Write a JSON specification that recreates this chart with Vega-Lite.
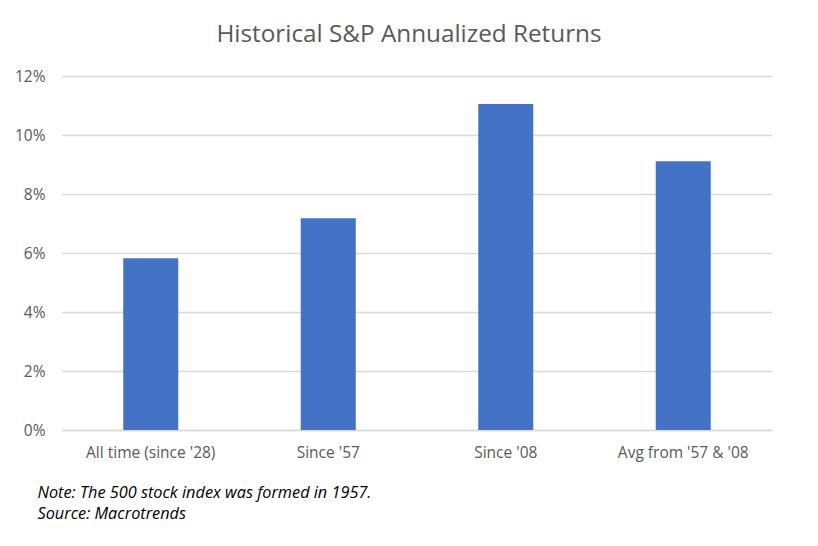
{
  "$schema": "https://vega.github.io/schema/vega-lite/v6.json",
  "width": 710,
  "height": 354,
  "autosize": {"type": "none"},
  "padding": {"left": 62, "top": 76, "right": 46, "bottom": 116},
  "background": "white",
  "title": {
    "text": "Historical S&P Annualized Returns",
    "font": "Open Sans",
    "fontSize": 24.3,
    "fontWeight": 400,
    "color": "#595959",
    "anchor": "middle",
    "frame": "group",
    "offset": 22,
    "dx": -8
  },
  "data": {
    "values": [
      {"period": "All time (since '28)", "ret": 0.0582},
      {"period": "Since '57", "ret": 0.0718},
      {"period": "Since '08", "ret": 0.1105},
      {"period": "Avg from '57 & '08", "ret": 0.0911}
    ]
  },
  "mark": {"type": "bar", "color": "#4472C4"},
  "encoding": {
    "x": {
      "field": "period",
      "type": "nominal",
      "sort": null,
      "scale": {"paddingInner": 0.69, "paddingOuter": 0.345},
      "axis": {
        "labelAngle": 0,
        "labelFont": "Open Sans",
        "labelFontSize": 15.5,
        "labelColor": "#595959",
        "labelPadding": 15,
        "labelOverlap": false,
        "ticks": false,
        "domain": true,
        "domainColor": "#D9D9D9",
        "domainWidth": 1.5,
        "title": ["Note: The 500 stock index was formed in 1957.", "Source: Macrotrends"],
        "titleFont": "Open Sans",
        "titleFontSize": 16.3,
        "titleFontStyle": "italic",
        "titleFontWeight": "normal",
        "titleColor": "#000000",
        "titleAnchor": "start",
        "titleAlign": "left",
        "titleX": -25,
        "titleY": 54,
        "titleBaseline": "top",
        "titleLineHeight": 21
      }
    },
    "y": {
      "field": "ret",
      "type": "quantitative",
      "scale": {"domain": [0, 0.12]},
      "axis": {
        "format": ".0%",
        "values": [0, 0.02, 0.04, 0.06, 0.08, 0.1, 0.12],
        "labelOverlap": false,
        "labelFont": "Open Sans",
        "labelFontSize": 15.5,
        "labelColor": "#595959",
        "labelPadding": 17,
        "ticks": false,
        "domain": false,
        "gridColor": "#D9D9D9",
        "gridWidth": 1.5,
        "title": null
      }
    }
  },
  "config": {"view": {"stroke": null}}
}
